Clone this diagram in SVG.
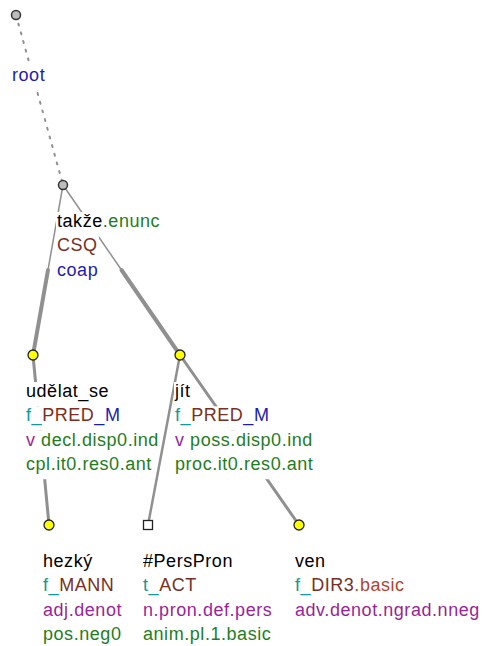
<svg xmlns="http://www.w3.org/2000/svg" width="482" height="646" viewBox="0 0 482 646">
<style>
text{font-family:"Liberation Sans",Arial,sans-serif;font-size:18px;letter-spacing:0.55px}
.bg{fill:#ffffff}
.k{fill:#000000}.g{fill:#1e7d1e}.br{fill:#7a2f22}.rb{fill:#b4442e}.bl{fill:#1c1cb4}.tl{fill:#0e9a9a}.pu{fill:#9a1f9a}
.e{stroke:#909090;fill:none;stroke-linecap:round}
.gray{fill:#bdbdbd;stroke:#333333;stroke-width:1.5}
.yel{fill:#ffff00;stroke:#222222;stroke-width:1.3}
.sq{fill:#ffffff;stroke:#222222;stroke-width:1.3}
</style>
<rect width="482" height="646" fill="#ffffff"/>
<g id="edges">
<line class="e" x1="16" y1="15" x2="63" y2="185" stroke-width="2" stroke-dasharray="2 7" stroke="#8a8a8a"/>
<line class="e" x1="63" y1="185" x2="33" y2="355" stroke-width="1.5" stroke="#a8a8a8"/>
<line class="e" x1="48" y1="270" x2="33" y2="355" stroke-width="4"/>
<line class="e" x1="63" y1="185" x2="180" y2="355" stroke-width="1.5" stroke="#a8a8a8"/>
<line class="e" x1="121.5" y1="270" x2="180" y2="355" stroke-width="4"/>
<line class="e" x1="33" y1="355" x2="49" y2="525" stroke-width="3"/>
<line class="e" x1="180" y1="355" x2="148" y2="525" stroke-width="2.5"/>
<line class="e" x1="180" y1="355" x2="299" y2="525" stroke-width="3"/>
</g>
<g id="n-root">
<rect class="bg" x="11" y="66" width="36" height="24.3"/>
<text x="12" y="81" class="bl">root</text>
<circle class="gray" cx="16" cy="15" r="4.5"/>
</g>
<g id="n-takze">
<rect class="bg" x="56" y="212" width="109" height="24.3"/>
<rect class="bg" x="56" y="236.3" width="43" height="24.3"/>
<rect class="bg" x="56" y="260.6" width="44" height="24.3"/>
<text x="57" y="227"><tspan class="k">takže</tspan><tspan class="g">.enunc</tspan></text>
<text x="57" y="251.3" class="br">CSQ</text>
<text x="57" y="275.6" class="bl">coap</text>
<circle class="gray" cx="63" cy="185" r="4.5"/>
</g>
<g id="n-udelat">
<rect class="bg" x="25" y="382" width="86" height="24.3"/>
<rect class="bg" x="25" y="406.3" width="97" height="24.3"/>
<rect class="bg" x="25" y="430.6" width="135" height="24.3"/>
<rect class="bg" x="25" y="454.9" width="128" height="24.3"/>
<text x="26" y="397" class="k">udělat_se</text>
<text x="26" y="421.3"><tspan class="tl">f_</tspan><tspan class="br">PRED</tspan><tspan class="bl">_M</tspan></text>
<text x="26" y="445.6"><tspan class="pu">v</tspan><tspan class="g"> decl.disp0.ind</tspan></text>
<text x="26" y="470" class="g">cpl.it0.res0.ant</text>
<circle class="yel" cx="33" cy="355" r="5"/>
</g>
<g id="n-jit">
<rect class="bg" x="174" y="382" width="18" height="24.3"/>
<rect class="bg" x="174" y="406.3" width="97" height="24.3"/>
<rect class="bg" x="174" y="430.6" width="140" height="24.3"/>
<rect class="bg" x="174" y="454.9" width="141" height="24.3"/>
<text x="175" y="397" class="k">jít</text>
<text x="175" y="421.3"><tspan class="tl">f_</tspan><tspan class="br">PRED</tspan><tspan class="bl">_M</tspan></text>
<text x="175" y="445.6"><tspan class="pu">v</tspan><tspan class="g"> poss.disp0.ind</tspan></text>
<text x="175" y="470" class="g">proc.it0.res0.ant</text>
<circle class="yel" cx="180" cy="355" r="5"/>
</g>
<g id="n-hezky">
<text x="43" y="567" class="k">hezký</text>
<text x="43" y="591.3"><tspan class="tl">f_</tspan><tspan class="br">MANN</tspan></text>
<text x="43" y="615.6" class="pu">adj.denot</text>
<text x="43" y="640" class="g">pos.neg0</text>
<circle class="yel" cx="49" cy="525" r="5"/>
</g>
<g id="n-perspron">
<text x="143" y="567" class="k">#PersPron</text>
<text x="143" y="591.3"><tspan class="tl">t_</tspan><tspan class="br">ACT</tspan></text>
<text x="143" y="615.6" class="pu">n.pron.def.pers</text>
<text x="143" y="640" class="g">anim.pl.1.basic</text>
<rect class="sq" x="143.5" y="520.5" width="9" height="9"/>
</g>
<g id="n-ven">
<text x="295" y="567" class="k">ven</text>
<text x="295" y="591.3"><tspan class="tl">f_</tspan><tspan class="br">DIR3</tspan><tspan class="rb">.basic</tspan></text>
<text x="295" y="615.6" class="pu">adv.denot.ngrad.nneg</text>
<circle class="yel" cx="299" cy="525" r="5"/>
</g>
</svg>
